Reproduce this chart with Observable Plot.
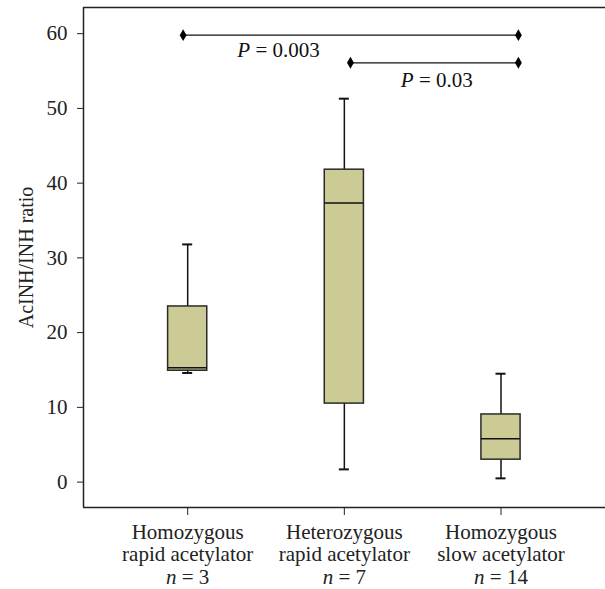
<!DOCTYPE html>
<html>
<head>
<meta charset="utf-8">
<script src="https://cdn.jsdelivr.net/npm/d3@7"></script>
<script src="https://cdn.jsdelivr.net/npm/@observablehq/plot@0.6"></script>
<style>
  body { margin: 0; background: #fff; }
  svg, svg text, svg tspan { font-family: "Liberation Serif", "DejaVu Serif", serif !important; }
</style>
</head>
<body>
<div id="chart"></div>
<script>
// Categories and box statistics
const groups = ["Homozygous\nrapid acetylator\nn = 3", "Heterozygous\nrapid acetylator\nn = 7", "Homozygous\nslow acetylator\nn = 14"];
const groupPos = [1, 2, 3];
const whiskerLow = [14.6, 1.7, 0.5];
const q1 = [14.9, 10.5, 3.0];
const median = [15.3, 37.35, 5.8];
const q3 = [23.5, 41.8, 9.05];
const whiskerHigh = [31.8, 51.3, 14.5];

// Significance brackets
const bracketFrom = [0.971, 2.039];
const bracketTo = [3.111, 3.111];
const bracketY = [59.8, 56.1];
const pLabels = ["P = 0.003", "P = 0.03"];
const pLabelX = [1.58, 2.59];
const pLabelY = [57.75, 53.75];

const yTicks = [0, 10, 20, 30, 40, 50, 60];
const yDomain = [-3.4, 63.5];
const xDomain = [0.335, 3.667];

const boxes = groupPos.map((p, i) => ({
  pos: p, lo: whiskerLow[i], q1: q1[i], med: median[i], q3: q3[i], hi: whiskerHigh[i]
}));
const brackets = bracketY.map((y, i) => ({x1: bracketFrom[i], x2: bracketTo[i], y}));
const bracketEnds = brackets.flatMap(b => [{x: b.x1, y: b.y}, {x: b.x2, y: b.y}]);
const pText = pLabels.map((t, i) => ({t, x: pLabelX[i], y: pLabelY[i]}));

const halfBox = 0.125, halfCap = 0.032;
const FF = "Liberation Serif";

const chart = Plot.plot({
  width: 605,
  height: 589,
  marginLeft: 83,
  marginRight: 0,
  marginTop: 7,
  marginBottom: 82,
  style: {fontSize: "21px", fontFamily: FF, color: "#222", overflow: "visible"},
  x: {type: "linear", domain: xDomain},
  y: {domain: yDomain},
  marks: [
    Plot.axisX({ticks: groupPos, tickFormat: d => groups[d - 1], tickSize: 8, tickPadding: 7, fontSize: 21, fontFamily: FF, lineHeight: 1.08, label: null, stroke: "#222", fill: "#222"}),
    Plot.axisY({ticks: yTicks, tickSize: 6, tickPadding: 10, fontSize: 21, fontFamily: FF, label: null, stroke: "#222", fill: "#222"}),
    Plot.text(["AcINH/INH ratio"], {frameAnchor: "left", textAnchor: "middle", dx: -57, rotate: -90, fontSize: 20, fontFamily: FF, fill: "#222"}),
    // frame (top, bottom, left)
    Plot.ruleY([yDomain[1], yDomain[0]], {stroke: "#222", strokeWidth: 1.5}),
    Plot.ruleX([xDomain[0]], {stroke: "#222", strokeWidth: 1.5}),
    // whiskers
    Plot.ruleX(boxes, {x: "pos", y1: "q3", y2: "hi", stroke: "#111", strokeWidth: 1.5}),
    Plot.ruleX(boxes, {x: "pos", y1: "lo", y2: "q1", stroke: "#111", strokeWidth: 1.5}),
    Plot.ruleY(boxes, {y: "hi", x1: d => d.pos - halfCap, x2: d => d.pos + halfCap, stroke: "#111", strokeWidth: 2}),
    Plot.ruleY(boxes, {y: "lo", x1: d => d.pos - halfCap, x2: d => d.pos + halfCap, stroke: "#111", strokeWidth: 2}),
    // boxes
    Plot.rect(boxes, {x1: d => d.pos - halfBox, x2: d => d.pos + halfBox, y1: "q1", y2: "q3", fill: "#cccb96", stroke: "#2a2a2a", strokeWidth: 1.5}),
    Plot.ruleY(boxes, {y: "med", x1: d => d.pos - halfBox, x2: d => d.pos + halfBox, stroke: "#111", strokeWidth: 1.5}),
    // significance brackets
    Plot.ruleY(brackets, {y: "y", x1: "x1", x2: "x2", stroke: "#111", strokeWidth: 1.3}),
    Plot.dot(bracketEnds, {x: "x", y: "y", symbol: "diamond", r: 3.6, fill: "#000"}),
    Plot.text(pText, {x: "x", y: "y", text: "t", fontSize: 21, fontFamily: FF, fill: "#111"})
  ]
});

// italicise the statistical symbols (P and n)
function italicise(el, letter) {
  const txt = el.textContent;
  if (!txt.startsWith(letter + " =")) return;
  while (el.firstChild) el.removeChild(el.firstChild);
  const ns = "http://www.w3.org/2000/svg";
  const a = document.createElementNS(ns, "tspan");
  a.setAttribute("font-style", "italic");
  a.textContent = letter;
  const b = document.createElementNS(ns, "tspan");
  b.textContent = txt.slice(1);
  el.appendChild(a); el.appendChild(b);
}
chart.querySelectorAll("text").forEach(t => { if (t.children.length === 0) italicise(t, "P"); });
chart.querySelectorAll("tspan").forEach(t => italicise(t, "n"));

document.getElementById("chart").appendChild(chart);
</script>
</body>
</html>
